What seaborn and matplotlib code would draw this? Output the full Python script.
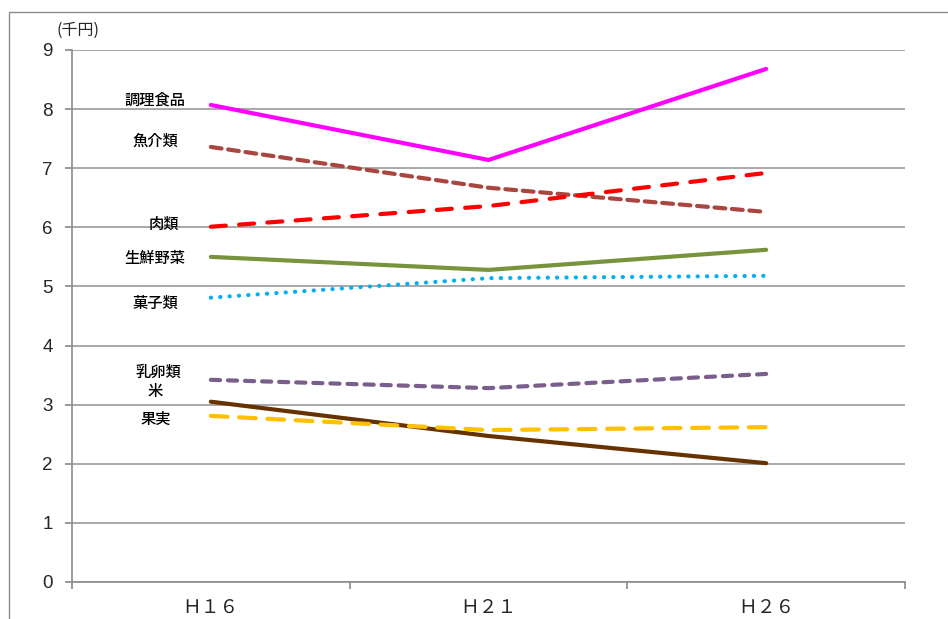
import matplotlib
matplotlib.use("Agg")
import matplotlib.pyplot as plt
import matplotlib.patches as mpatches
import numpy as np
import pandas as pd
import seaborn as sns

# ─── data ────────────────────────────────────────────────────────────────────
years = ["Ｈ１６", "Ｈ２１", "Ｈ２６"]

chouri   = [8.07, 7.14, 8.68]   # 調理食品
gyokai   = [7.36, 6.67, 6.26]   # 魚介類
niku     = [6.01, 6.36, 6.92]   # 肉類
yasai    = [5.50, 5.28, 5.62]   # 生鮮野菜
kashi    = [4.81, 5.14, 5.18]   # 菓子類
nyuran   = [3.42, 3.28, 3.52]   # 乳卵類
kome     = [3.05, 2.47, 2.01]   # 米
kajitsu  = [2.81, 2.57, 2.62]   # 果実

names = ["調理食品", "魚介類", "肉類", "生鮮野菜", "菓子類", "乳卵類", "米", "果実"]
values = [chouri, gyokai, niku, yasai, kashi, nyuran, kome, kajitsu]

# label positions next to the H16 point (value units)
label_y = [8.15, 7.45, 6.05, 5.48, 4.72, 3.55, 3.22, 2.75]
label_x = [-0.2, -0.2, -0.17, -0.2, -0.2, -0.19, -0.2, -0.2]

STYLES = {
    "調理食品": dict(color="#FF00FF", linestyle="-"),
    "魚介類":   dict(color="#A9463F", linestyle=(0, (2.6, 1.6))),
    "肉類":     dict(color="#FF0000", linestyle=(0, (3.6, 3.2))),
    "生鮮野菜": dict(color="#77933C", linestyle="-"),
    "菓子類":   dict(color="#00B0F0", linestyle=(0, (0.05, 2.2))),
    "乳卵類":   dict(color="#7A5F8C", linestyle=(0, (2.2, 1.9))),
    "米":       dict(color="#663300", linestyle="-"),
    "果実":     dict(color="#FFC000", linestyle=(0, (4.0, 2.8))),
}

sns.set_theme(style="white")
plt.rcParams["font.family"] = ["Noto Sans CJK JP", "DejaVu Sans"]

fig = plt.figure(figsize=(9.48, 6.19), dpi=100)
ax = fig.add_axes([72 / 948, 1 - 582 / 619, (905 - 72) / 948, (582 - 50) / 619])

# outer chart frame
fig.patches.append(mpatches.Rectangle((9 / 948, -0.1), 1.2, 1 - 12 / 619 + 0.1,
                                      transform=fig.transFigure, fill=False,
                                      edgecolor="#8C8C8C", linewidth=1.0))

x = np.arange(len(years))
for name, vals in zip(names, values):
    st = STYLES[name]
    sns.lineplot(x=x, y=vals, ax=ax, color=st["color"], linestyle=st["linestyle"],
                 linewidth=3.0, solid_capstyle="round", dash_capstyle="round")

for name, lx, ly in zip(names, label_x, label_y):
    ax.text(lx, ly, name, ha="center", va="center", fontsize=11,
            fontweight="medium", color="black")

ax.set_xlim(-0.5, 2.5)
ax.set_ylim(0, 9)
ax.set_yticks(range(10))
ax.set_yticklabels([str(i) for i in range(10)], fontsize=13.5,
                   family=["Liberation Sans"])
ax.set_xticks([-0.5, 0.5, 1.5, 2.5])
ax.set_xticklabels([])
ax.set_xticks(x, minor=True)
ax.set_xticklabels(years, minor=True, fontsize=13.5)
ax.tick_params(axis="x", which="major", direction="out", length=5, color="#8C8C8C",
               bottom=True)
ax.tick_params(axis="x", which="minor", length=0, pad=11)
ax.tick_params(axis="y", direction="out", length=5, color="#8C8C8C", left=True, pad=9)

ax.grid(axis="y", color="#9A9A9A", linewidth=1.2)
ax.set_axisbelow(True)
for side in ["top", "right"]:
    ax.spines[side].set_visible(False)
for side in ["left", "bottom"]:
    ax.spines[side].set_color("#8C8C8C")
    ax.spines[side].set_linewidth(1.2)

fig.text(57 / 948, 1 - 30 / 619, "(千円)", fontsize=11.5, ha="left", va="center")

fig.savefig("out.png", dpi=100)
